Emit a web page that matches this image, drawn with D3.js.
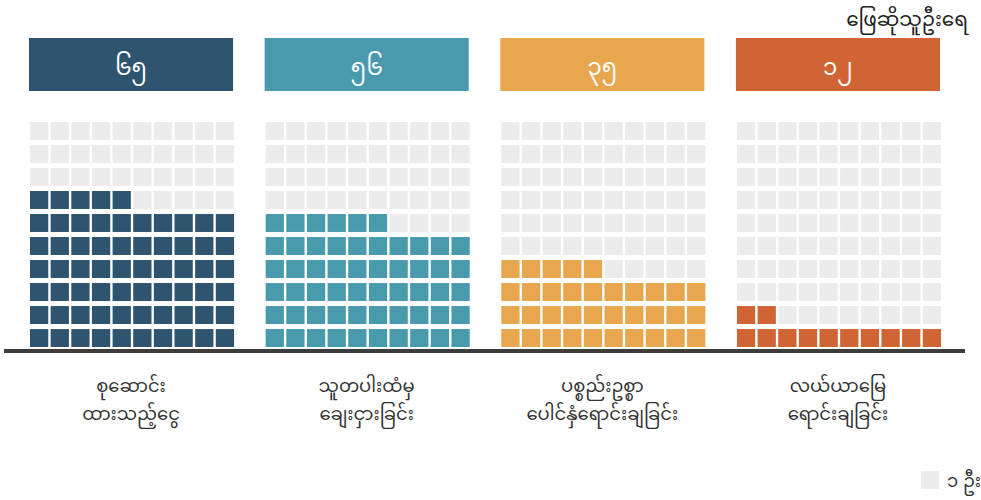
<!DOCTYPE html>
<html><head><meta charset="utf-8">
<script src="https://cdn.jsdelivr.net/npm/d3@7"></script>
<style>body{margin:0;background:#fff}svg{display:block}text{font-family:"Noto Sans","Noto Sans Myanmar",sans-serif}</style>
</head><body>
<svg id="c" width="981" height="500"></svg>
<script>
const categories = [["စုဆောင်း","ထားသည့်ငွေ"],["သူတပါးထံမှ","ချေးငှားခြင်း"],["ပစ္စည်းဥစ္စာ","ပေါင်နှံရောင်းချခြင်း"],["လယ်ယာမြေ","ရောင်းချခြင်း"]];
const values = [65, 56, 35, 12];
const valueLabels = ["၆၅","၅၆","၃၅","၁၂"];
const colors = ["#2e546f","#4a9aae","#e8a64e","#d06434"];
const title = "ဖြေဆိုသူဦးရေ";
const legendLabel = "၁ ဦး";

const svg = d3.select("#c");
const panel = d3.scaleBand().domain(d3.range(4)).range([29, 940]).paddingInner(0.134).paddingOuter(0);
const col = d3.scaleBand().domain(d3.range(10)).range([1, panel.bandwidth()+1]).paddingInner(0.115).paddingOuter(0);
const row = d3.scaleBand().domain(d3.range(10)).range([347, 122]).paddingInner(0.22).paddingOuter(0);

values.forEach((v, i) => {
  const g = svg.append("g").attr("transform", `translate(${panel(i)},0)`);
  g.append("rect").attr("x", 0).attr("y", 38).attr("width", panel.bandwidth()).attr("height", 53).attr("fill", colors[i]);
  g.append("text").attr("x", panel.bandwidth()/2).attr("y", 66).attr("text-anchor","middle").attr("dominant-baseline","central")
    .attr("fill","#fff").attr("font-size", 23).text(valueLabels[i]);
  const cells = d3.range(100).map(k => ({k, r: Math.floor(k/10), c: k%10}));
  g.selectAll("rect.cell").data(cells).enter().append("rect").attr("class","cell")
    .attr("x", d => col(d.c)).attr("y", d => row(d.r))
    .attr("width", col.bandwidth()).attr("height", row.bandwidth())
    .attr("fill", d => d.k < v ? colors[i] : "#ececec");
  const t = g.append("text").attr("text-anchor","middle").attr("fill","#333").attr("font-size", 18);
  categories[i].forEach((line, j) => {
    t.append("tspan").attr("x", panel.bandwidth()/2).attr("y", 392 + j*28).text(line);
  });
});

svg.append("rect").attr("x", 4).attr("y", 349).attr("width", 961).attr("height", 4).attr("fill", "#3d3d3d");
svg.append("text").attr("x", 968).attr("y", 26).attr("text-anchor","end").attr("fill","#222").attr("font-size", 20).text(title);
svg.append("rect").attr("x", 921).attr("y", 471).attr("width", 18).attr("height", 18).attr("fill", "#ececec");
svg.append("text").attr("x", 947).attr("y", 487).attr("fill","#333").attr("font-size", 18).text(legendLabel);
</script>
</body></html>
